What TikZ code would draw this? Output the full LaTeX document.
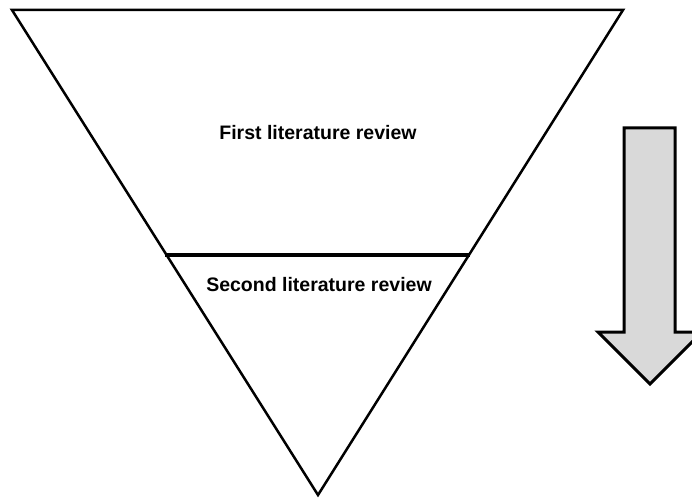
\documentclass[tikz,border=0pt]{standalone}
\usepackage{fontspec}
\setmainfont{Liberation Sans}
\definecolor{arrowgray}{HTML}{D9D9D9}
\begin{document}
\begin{tikzpicture}[x=1pt,y=-1pt,
  outline/.style={draw=black,line width=2.5pt,line join=miter},
  divider/.style={draw=black,line width=4pt},
  label/.style={font=\fontsize{19.5}{23}\selectfont\bfseries,inner sep=0pt},
  flow/.style={draw=black,fill=arrowgray,line width=3pt,line join=miter}]
\useasboundingbox (0,0) rectangle (692,502);
\clip (0,0) rectangle (692,502);
% funnel outline
\coordinate (tl) at (12,10);
\coordinate (tr) at (623,10);
\coordinate (apex) at (318,495);
\draw[outline] (tl) -- (tr) -- (apex) -- cycle;
% split between the two stages
\coordinate (ml) at (165,255);
\coordinate (mr) at (470,255);
\draw[divider] (ml) -- (mr);
\node[label] (first) at (318,133) {First literature review};
\node[label] (second) at (319,285) {Second literature review};
% downward arrow
\draw[flow] (624,128) -- (675,128) -- (675,332) -- (702,332) -- (650,384)
  -- (598,332) -- (624,332) -- cycle;
\end{tikzpicture}
\end{document}
